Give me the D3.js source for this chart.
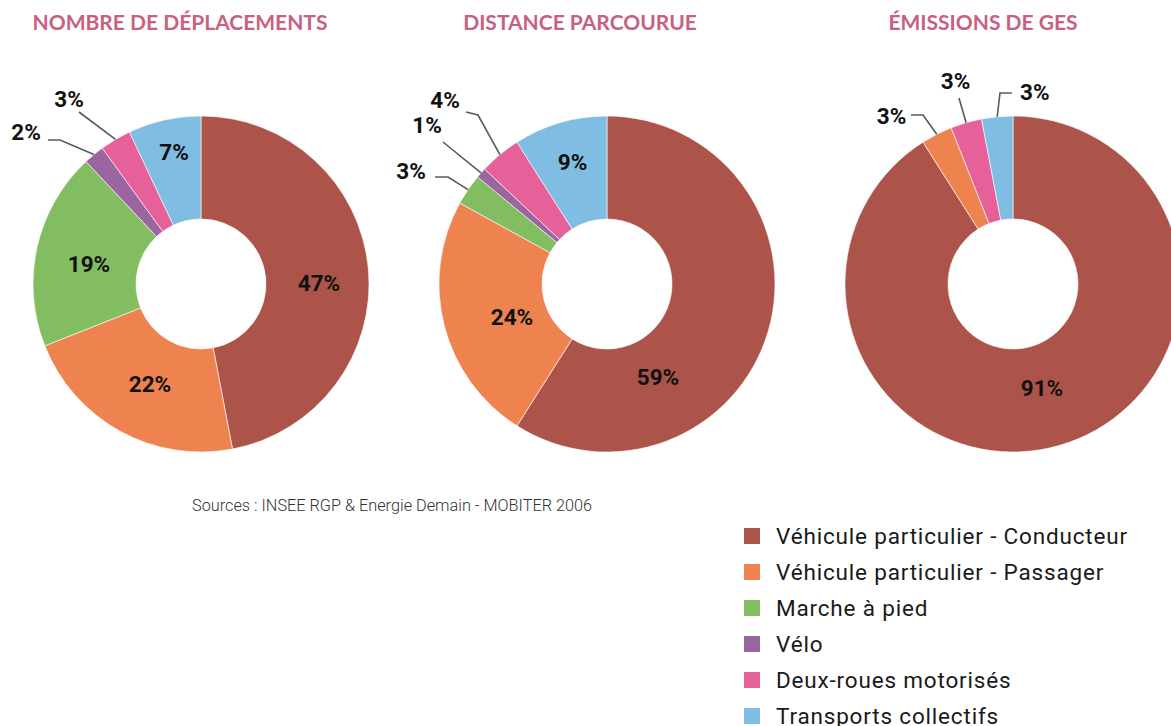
<!DOCTYPE html>
<html><head><meta charset="utf-8">
<script src="https://cdn.jsdelivr.net/npm/d3@7"></script>
<style>
html,body{margin:0;padding:0;background:#fff;}
svg{display:block;}
</style></head>
<body>
<svg id="chart" width="1171" height="726"></svg>
<script>
// ---- data ----
const categories = [
  "Véhicule particulier - Conducteur",
  "Véhicule particulier - Passager",
  "Marche à pied",
  "Vélo",
  "Deux-roues motorisés",
  "Transports collectifs"
];
const chartTitles = ["NOMBRE DE DÉPLACEMENTS", "DISTANCE PARCOURUE", "ÉMISSIONS DE GES"];
const deplacements = [47, 22, 19, 2, 3, 7];
const distance = [59, 24, 3, 1, 4, 9];
const emissions = [91, 3, 0, 0, 3, 3];
const sourceText = "Sources : INSEE RGP & Energie Demain - MOBITER 2006";

// ---- styles / layout ----
const colors = ["#ac5449", "#ee8350", "#83bd62", "#9b66a0", "#e6609a", "#80bde2"];
const layout = {
  centers: [[201, 284], [607, 284], [1013, 284]],
  titleX: [180, 580, 983],
  rOuter: 168, rInner: 65
};
// label placement per chart, per category index (offsets from pie center)
const labelPlacement = [
  {
    0: {text: [118, -1]}, 1: {text: [-51, 100]}, 2: {text: [-112, -20]}, 5: {text: [-27, -132]},
    3: {out: true, pts: [[-141, -144], [-153, -144]], text: [-175, -144], anchor: "middle"},
    4: {out: true, pts: [[-122, -172]], text: [-132, -177], anchor: "middle"}
  },
  {
    0: {text: [51, 93]}, 1: {text: [-95, 33]}, 5: {text: [-34.5, -122]},
    2: {out: true, pts: [[-159, -107], [-172, -107]], text: [-196, -105], anchor: "middle"},
    3: {out: true, pts: [[-164, -142]], text: [-180, -151], anchor: "middle"},
    4: {out: true, pts: [[-129, -169], [-141, -172]], text: [-162, -176], anchor: "middle"}
  },
  {
    0: {text: [29, 104]},
    1: {out: true, pts: [[-90, -169], [-102, -169]], text: [-121.5, -160], anchor: "middle"},
    4: {out: true, pts: [[-54, -186]], text: [-57.5, -195], anchor: "middle"},
    5: {out: true, pts: [[-13, -191], [-1, -191]], text: [7, -184], anchor: "start"}
  }
];

const svg = d3.select("#chart");
const datasets = [deplacements, distance, emissions];

const pie = d3.pie().sort(null).value(d => d);
const arc = d3.arc().innerRadius(layout.rInner).outerRadius(layout.rOuter);

datasets.forEach((values, ci) => {
  const [cx, cy] = layout.centers[ci];
  // title
  svg.append("text")
    .attr("x", layout.titleX[ci]).attr("y", 30)
    .attr("text-anchor", "middle")
    .attr("font-family", "Lato, 'Open Sans', sans-serif")
    .attr("font-weight", 700).attr("font-size", 21)
    .attr("fill", "#c8607f")
    .text(chartTitles[ci]);

  const g = svg.append("g").attr("transform", `translate(${cx},${cy})`);
  const arcs = pie(values);
  g.selectAll("path.slice").data(arcs).join("path")
    .attr("class", "slice")
    .attr("d", arc)
    .attr("fill", (d, i) => colors[i])
    .attr("stroke", "#fff").attr("stroke-width", d => d.value > 0 ? 0.6 : 0);

  const place = labelPlacement[ci];
  arcs.forEach((d, i) => {
    if (d.value <= 0) return;
    const p = place[i];
    if (!p) return;
    if (p.out) {
      const mid = (d.startAngle + d.endAngle) / 2;
      const start = [Math.sin(mid) * layout.rOuter, -Math.cos(mid) * layout.rOuter];
      const pts = [start, ...p.pts];
      g.append("path")
        .attr("d", d3.line()(pts))
        .attr("fill", "none").attr("stroke", "#595959").attr("stroke-width", 1.6);
      g.append("text")
        .attr("x", p.text[0]).attr("y", p.text[1])
        .attr("text-anchor", p.anchor)
        .attr("font-family", "Roboto, sans-serif").attr("font-weight", 700)
        .attr("font-size", 22.5).attr("fill", "#111")
        .text(d.value + "%");
    } else {
      g.append("text")
        .attr("x", p.text[0]).attr("y", p.text[1])
        .attr("text-anchor", "middle").attr("dominant-baseline", "central")
        .attr("font-family", "Roboto, sans-serif").attr("font-weight", 700)
        .attr("font-size", 22.5).attr("fill", "#111")
        .text(d.value + "%");
    }
  });
});

// source
svg.append("text")
  .attr("x", 192).attr("y", 511)
  .attr("font-family", "Roboto, sans-serif").attr("font-weight", 300)
  .attr("font-size", 16.3).attr("fill", "#333")
  .text(sourceText);

// legend
const legendY = d3.scalePoint().domain(categories).range([536, 716]);
const lg = svg.append("g");
categories.forEach((c, i) => {
  const y = legendY(c);
  lg.append("rect").attr("x", 744).attr("y", y - 8).attr("width", 16).attr("height", 16)
    .attr("fill", colors[i]);
  lg.append("text").attr("x", 776).attr("y", y + 8)
    .attr("font-family", "Roboto, sans-serif").attr("font-size", 22.5)
    .attr("letter-spacing", 0.82)
    .attr("fill", "#1a1a1a").text(c);
});
</script>
</body></html>
